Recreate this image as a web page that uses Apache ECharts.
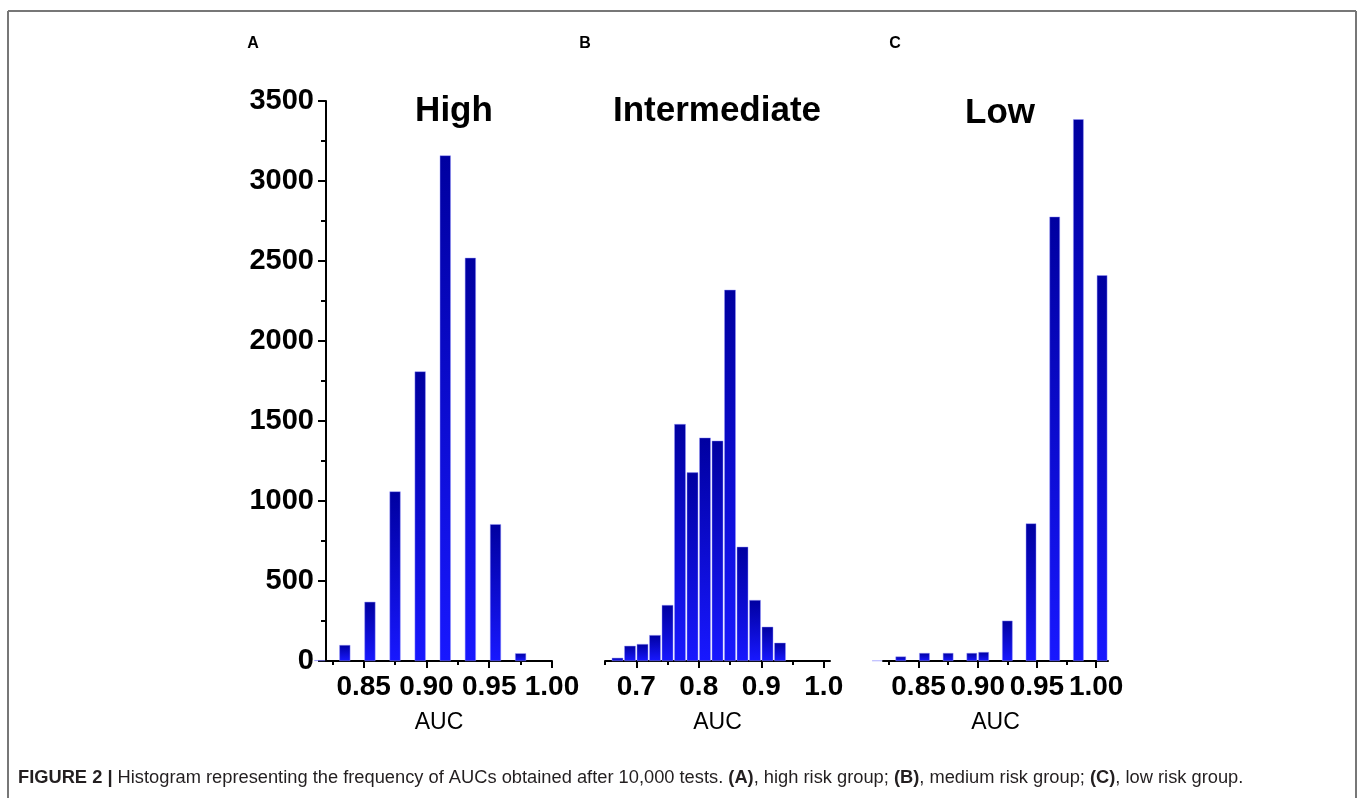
<!DOCTYPE html>
<html>
<head>
<meta charset="utf-8">
<script src="https://cdn.jsdelivr.net/npm/echarts@6/dist/echarts.min.js"></script>
<style>
  html, body { margin: 0; padding: 0; background: #fff; }
  #chart { width: 1360px; height: 798px; }
</style>
</head>
<body>
<div id="chart"></div>
<script>
// bin centres (AUC) and counts
const highX = [0.815, 0.835, 0.855, 0.875, 0.895, 0.915, 0.935, 0.955, 0.975];
const highCounts = [5, 100, 370, 1060, 1810, 3160, 2520, 855, 48];

const interX = [0.67, 0.69, 0.71, 0.73, 0.75, 0.77, 0.79, 0.81, 0.83, 0.85, 0.87, 0.89, 0.91, 0.93];
const interCounts = [20, 95, 106, 162, 350, 1481, 1179, 1396, 1377, 2320, 714, 381, 214, 114];

const lowX = [0.815, 0.835, 0.855, 0.875, 0.895, 0.905, 0.925, 0.945, 0.965, 0.985, 1.005];
const lowCounts = [3, 28, 50, 50, 50, 56, 252, 860, 2777, 3386, 2411];

// tick values
const yTicks = { min: 0, max: 3500, interval: 500 };
const ticksAC = [0.85, 0.90, 0.95, 1.00];
const minorAC = [0.825, 0.875, 0.925, 0.975];
const ticksB = [0.7, 0.8, 0.9, 1.0];
const minorB = [0.65, 0.75, 0.85, 0.95];

const chart = echarts.init(document.getElementById('chart'));

const barColor = new echarts.graphic.LinearGradient(0, 0, 0, 1, [
  { offset: 0, color: '#0000a0' },
  { offset: 1, color: '#1818ff' }
]);

const pairs = (xs, ys) => xs.map((x, i) => [x, ys[i]]);

// one major axis (labels) + one overlay axis for the minor ticks
const makeXAxes = (grid, min, max, major, minor, digits) => [
  {
    type: 'value', gridIndex: grid, min: min, max: max, position: 'bottom',
    name: 'AUC', nameLocation: 'middle', nameGap: 50,
    nameTextStyle: { fontFamily: 'Liberation Sans', fontSize: 23, color: '#000' },
    axisLine: { show: true, lineStyle: { color: '#000', width: 2 } },
    axisTick: { show: true, customValues: major, length: 7, lineStyle: { color: '#000', width: 2 } },
    axisLabel: {
      customValues: major, margin: 12,
      fontFamily: 'Liberation Sans', fontWeight: 'bold', fontSize: 28, color: '#000',
      formatter: v => v.toFixed(digits)
    },
    splitLine: { show: false }
  },
  {
    type: 'value', gridIndex: grid, min: min, max: max, position: 'bottom',
    axisLine: { show: false },
    axisTick: { show: true, customValues: minor, length: 4, lineStyle: { color: '#000', width: 2 } },
    axisLabel: { show: false },
    splitLine: { show: false }
  }
];

const makeYAxis = (grid, visible) => ({
  type: 'value', gridIndex: grid, min: yTicks.min, max: yTicks.max, interval: yTicks.interval,
  show: visible,
  axisLine: { show: true, lineStyle: { color: '#000', width: 2 } },
  axisTick: { show: true, length: 8, lineStyle: { color: '#000', width: 2 } },
  minorTick: { show: true, splitNumber: 2, length: 5, lineStyle: { color: '#000', width: 2 } },
  axisLabel: {
    margin: 12, fontFamily: 'Liberation Sans', fontWeight: 'bold', fontSize: 29, color: '#000',
    formatter: v => String(v)
  },
  splitLine: { show: false }
});

const makeSeries = (xi, yi, data, width) => ({
  type: 'bar', xAxisIndex: xi, yAxisIndex: yi, data: data,
  barWidth: width, clip: false, silent: true,
  itemStyle: { color: barColor, borderColor: 'rgba(150,150,255,0.9)', borderWidth: 0.5 }
});

const labelStyle = (x, y, text, size, weight) => ({
  type: 'text', x: x, y: y,
  style: {
    text: text, fill: '#000', fontFamily: 'Liberation Sans', fontSize: size, fontWeight: weight,
    textAlign: 'center', textVerticalAlign: 'middle'
  }
});

const option = {
  animation: false,
  grid: [
    { left: 326, top: 101, width: 226, height: 560 },
    { left: 605, top: 101, width: 225, height: 560 },
    { left: 883, top: 101, width: 225, height: 560 }
  ],
  xAxis: [
    ...makeXAxes(0, 0.82, 1.0, ticksAC, minorAC, 2),
    ...makeXAxes(1, 0.65, 1.01, ticksB, minorB, 1),
    ...makeXAxes(2, 0.82, 1.01, ticksAC, minorAC, 2)
  ],
  yAxis: [makeYAxis(0, true), makeYAxis(1, false), makeYAxis(2, false)],
  series: [
    makeSeries(0, 0, pairs(highX, highCounts), 11),
    makeSeries(2, 1, pairs(interX, interCounts), 11.5),
    makeSeries(4, 2, pairs(lowX, lowCounts), 10.5)
  ],
  graphic: [
    // frame
    { type: 'line', shape: { x1: 8, y1: 11, x2: 1356, y2: 11 }, style: { stroke: '#777', lineWidth: 2 } },
    { type: 'line', shape: { x1: 8, y1: 11, x2: 8, y2: 798 }, style: { stroke: '#777', lineWidth: 2 } },
    { type: 'line', shape: { x1: 1356, y1: 11, x2: 1356, y2: 798 }, style: { stroke: '#777', lineWidth: 2 } },
    // panel letters
    labelStyle(253, 44, 'A', 16, 'bold'),
    labelStyle(585, 44, 'B', 16, 'bold'),
    labelStyle(895, 44, 'C', 16, 'bold'),
    // panel titles
    labelStyle(454, 111, 'High', 35, 'bold'),
    labelStyle(717, 111, 'Intermediate', 35, 'bold'),
    labelStyle(1000, 113, 'Low', 35, 'bold'),
    // caption
    {
      type: 'text', x: 18, y: 778,
      style: {
        text: '{b|FIGURE 2 |} Histogram representing the frequency of AUCs obtained after 10,000 tests. {b|(A)}, high risk group; {b|(B)}, medium risk group; {b|(C)}, low risk group.',
        fill: '#231f20', fontFamily: 'Liberation Sans', fontSize: 18.3,
        textVerticalAlign: 'middle',
        rich: { b: { fontFamily: 'Liberation Sans', fontSize: 18.3, fontWeight: 'bold', fill: '#231f20' } }
      }
    }
  ]
};

chart.setOption(option);
</script>
</body>
</html>
